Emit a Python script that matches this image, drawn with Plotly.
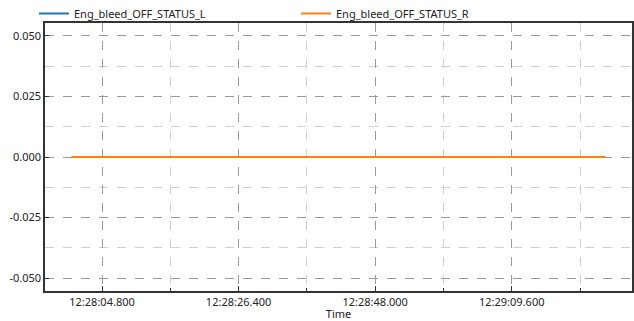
import plotly.graph_objects as go

# Sample timestamps and status values for both engine bleed signals
times = [
    "2024-01-01 12:28:00.000",
    "2024-01-01 12:28:21.100",
    "2024-01-01 12:28:42.200",
    "2024-01-01 12:29:03.300",
    "2024-01-01 12:29:24.400",
]
status_l = [0, 0, 0, 0, 0]
status_r = [0, 0, 0, 0, 0]

series_names = ["Eng_bleed_OFF_STATUS_L", "Eng_bleed_OFF_STATUS_R"]
series_colors = ["#1f77b4", "#ff7f0e"]

x_range = ["2024-01-01 12:27:55.780", "2024-01-01 12:29:28.620"]
y_range = [-0.0553, 0.0553]
y_ticks = [-0.05, -0.025, 0.0, 0.025, 0.05]
y_labels = ["-0.050", "-0.025", "0.000", "0.025", "0.050"]

FONT = "Noto Sans, Open Sans, sans-serif"

# Paper area spans 34..632 px horizontally and 0..291 px vertically;
# the axes occupy a sub-domain so the legend can sit above the frame.
PAPER_W = 634 - 34 - 2
PAPER_H = 321 - 30
X_DOMAIN = [11 / PAPER_W, 1.0]
Y_DOMAIN = [0.0, (PAPER_H - 23) / PAPER_H]

fig = go.Figure()
for name, vals, col in zip(series_names, [status_l, status_r], series_colors):
    fig.add_trace(go.Scatter(
        x=times, y=vals, mode="lines", name=name,
        line=dict(color=col, width=2),
    ))

fig.update_layout(
    width=634, height=321,
    margin=dict(l=34, r=2, t=0, b=30, autoexpand=False),
    paper_bgcolor="white", plot_bgcolor="white",
    font=dict(family=FONT, size=11, color="#222"),
    showlegend=True,
    legend=dict(
        orientation="h", x=0.0, xanchor="left", xref="paper",
        y=1 - 28 / PAPER_H, yanchor="bottom", yref="paper",
        entrywidth=217, entrywidthmode="pixels",
        font=dict(size=11, color="#222"), bgcolor="rgba(0,0,0,0)",
        borderwidth=0, tracegroupgap=0,
    ),
    xaxis=dict(
        type="date", range=x_range, domain=X_DOMAIN,
        tick0="2024-01-01 12:28:04.800", dtick=21600,
        tickformat="%H:%M:%S.%L",
        ticks="inside", ticklen=5, tickcolor="#333", tickwidth=1,
        showline=True, linecolor="#333", linewidth=1.5, mirror=True,
        showgrid=True, gridcolor="#9a9a9a", griddash="dash", gridwidth=1,
        zeroline=False,
        minor=dict(dtick=10800, ticks="inside", ticklen=3, tickcolor="#333",
                   showgrid=True, gridcolor="#cfcfcf", griddash="dash", gridwidth=1),
        title=dict(text="Time", font=dict(size=11), standoff=2),
        tickfont=dict(size=11),
    ),
    yaxis=dict(
        range=y_range, domain=Y_DOMAIN, tickvals=y_ticks, ticktext=y_labels,
        ticks="inside", ticklen=4, tickcolor="#333",
        showline=True, linecolor="#333", linewidth=1.5, mirror=True,
        showgrid=True, gridcolor="#9a9a9a", griddash="dash", gridwidth=1,
        zeroline=False,
        minor=dict(dtick=0.0125, tick0=0, showgrid=True, gridcolor="#cfcfcf",
                   griddash="dash", gridwidth=1),
        tickfont=dict(size=11),
    ),
)

fig.write_html("out.html")
